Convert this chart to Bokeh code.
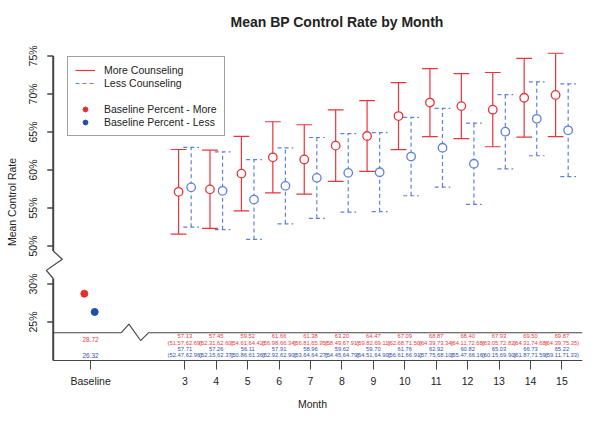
from bokeh.plotting import figure
from bokeh.models import Range1d, FixedTicker, Legend, LegendItem
from bokeh.core.properties import value
from bokeh.embed import file_html
from bokeh.resources import INLINE

# ---------------- data ----------------
months = [3, 4, 5, 6, 7, 8, 9, 10, 11, 12, 13, 14, 15]
more_mean = [57.13, 57.45, 59.52, 61.66, 61.38, 63.20, 64.47, 67.09, 68.87, 68.40, 67.93, 69.50, 69.87]
more_lo = [51.57, 52.31, 54.61, 56.98, 56.81, 58.49, 59.82, 62.68, 64.39, 64.11, 63.05, 64.31, 64.39]
more_hi = [62.69, 62.60, 64.42, 66.34, 65.95, 67.91, 69.11, 71.50, 73.34, 72.68, 72.82, 74.68, 75.35]
less_mean = [57.71, 57.26, 56.11, 57.91, 58.96, 59.62, 59.70, 61.76, 62.92, 60.82, 65.03, 66.73, 65.22]
less_lo = [52.47, 52.15, 50.86, 52.92, 53.64, 54.45, 54.51, 56.61, 57.75, 55.47, 60.15, 61.87, 59.11]
less_hi = [62.96, 62.37, 61.36, 62.90, 64.27, 64.79, 64.90, 66.91, 68.10, 66.16, 69.90, 71.59, 71.33]
baseline_more = 28.72
baseline_less = 26.32
baseline_label = "Baseline"
y_tick_pct = [25, 30, 50, 55, 60, 65, 70, 75]

# ---------------- layout constants ----------------
BREAK_SHIFT = 15          # axis break: 30% is drawn where 45 would be
def to_axis(v):
    return v + BREAK_SHIFT if v <= 35 else v

BASE_X = 0
OFF_MORE, OFF_LESS = -0.2, 0.2
BASE_OFF_MORE, BASE_OFF_LESS = -0.2, 0.13
CAP = 0.25
AXIS_X = -1.19
X_END = 15.656
Y_BOTTOM = 34.94
TABLE_TOP = 38.58
ROW_MORE_MEAN, ROW_MORE_CI, ROW_LESS_MEAN, ROW_LESS_CI = 38.11, 37.27, 36.51, 35.70
ROW_BASE_MORE, ROW_BASE_LESS = 37.69, 35.57
BREAK_TOP, BREAK_BOTTOM = 49.33, 45.72
TICK_LEN = 0.19

RED = "#e8343a"
BLUE = "#5f80da"
RED_DOT = "#e62e2e"
BLUE_DOT = "#1f4fa8"
RED_TXT = "#e8403f"
BLUE_TXT = "#3352b5"
AX = "#444444"
TXT = "#222222"
FONT = "Liberation Sans"

p = figure(width=584, height=412, output_backend="svg", toolbar_location=None,
           x_range=Range1d(-1.531, X_END), y_range=Range1d(Y_BOTTOM - 0.4, 77.03),
           min_border_left=42, min_border_right=2, min_border_top=40, min_border_bottom=44)
p.grid.visible = False
p.outline_line_color = None
p.background_fill_color = "white"
p.border_fill_color = "white"

p.title.text = "Mean BP Control Rate by Month"
p.title.text_font = FONT
p.title.text_font_size = "14px"
p.title.text_font_style = "bold"
p.title.text_color = TXT
p.title.align = "left"
p.title.offset = 188
p.title.standoff = 22

# x axis
xa = p.xaxis[0]
xa.ticker = FixedTicker(ticks=[BASE_X] + months)
xa.major_label_overrides = {BASE_X: baseline_label, **{m: str(m) for m in months}}
xa.axis_line_color = None
xa.major_tick_out = 6
xa.major_tick_in = 3
xa.major_tick_line_color = AX
xa.minor_tick_line_color = None
xa.major_label_text_font = FONT
xa.major_label_text_font_size = "10.5px"
xa.major_label_text_color = TXT
xa.major_label_standoff = 5
xa.axis_label = "Month"
xa.axis_label_text_font = FONT
xa.axis_label_text_font_size = "10.5px"
xa.axis_label_text_font_style = "normal"
xa.axis_label_text_color = TXT
xa.axis_label_standoff = 8

# y axis: labels and title (line and ticks drawn below, with the break)
ya = p.yaxis[0]
ya.ticker = FixedTicker(ticks=[to_axis(v) for v in y_tick_pct])
ya.major_label_overrides = {to_axis(v): f"{v}%" for v in y_tick_pct}
ya.major_label_orientation = "parallel"
ya.axis_line_color = None
ya.major_tick_line_color = None
ya.major_tick_out = 0
ya.major_tick_in = 0
ya.minor_tick_line_color = None
ya.major_label_text_font = FONT
ya.major_label_text_font_size = "10.5px"
ya.major_label_text_color = TXT
ya.major_label_standoff = 3
ya.axis_label = "Mean Control Rate"
ya.axis_label_text_font = FONT
ya.axis_label_text_font_size = "10.5px"
ya.axis_label_text_font_style = "normal"
ya.axis_label_text_color = TXT
ya.axis_label_standoff = 7

yt = [to_axis(v) for v in y_tick_pct]
# y axis line in two pieces around the break
p.segment(x0=[AXIS_X, AXIS_X], x1=[AXIS_X, AXIS_X], y0=[max(yt), BREAK_BOTTOM],
          y1=[BREAK_TOP, Y_BOTTOM], line_color=AX, line_width=2)
# tick marks
p.segment(x0=[AXIS_X] * len(yt), x1=[AXIS_X - TICK_LEN] * len(yt), y0=yt, y1=yt,
          line_color=AX, line_width=1.6)
# zigzag of the y axis break
p.line(x=[AXIS_X, AXIS_X + 0.29, AXIS_X - 0.22, AXIS_X],
       y=[BREAK_TOP, 48.26, 46.79, BREAK_BOTTOM], line_color=AX, line_width=1.2)

# bottom rule and table top rule (with break)
p.multi_line(
    xs=[[AXIS_X, X_END],
        [AXIS_X, 0.97, 1.22, 1.59, 1.84, X_END]],
    ys=[[Y_BOTTOM, Y_BOTTOM],
        [TABLE_TOP, TABLE_TOP, TABLE_TOP + 1.14, TABLE_TOP - 1.02, TABLE_TOP, TABLE_TOP]],
    line_color=AX, line_width=1.1)

# error bars
xm = [m + OFF_MORE for m in months]
xl = [m + OFF_LESS for m in months]
r_more = p.segment(x0=xm, x1=xm, y0=more_lo, y1=more_hi, line_color=RED, line_width=1.2)
p.segment(x0=[x - CAP for x in xm], x1=[x + CAP for x in xm], y0=more_hi, y1=more_hi,
          line_color=RED, line_width=1.2)
p.segment(x0=[x - CAP for x in xm], x1=[x + CAP for x in xm], y0=more_lo, y1=more_lo,
          line_color=RED, line_width=1.2)
r_less = p.segment(x0=xl, x1=xl, y0=less_lo, y1=less_hi, line_color=BLUE, line_width=1.2,
                   line_dash="4 3")
p.segment(x0=[x - CAP for x in xl], x1=[x + CAP for x in xl], y0=less_hi, y1=less_hi,
          line_color=BLUE, line_width=1.2, line_dash="4 3")
p.segment(x0=[x - CAP for x in xl], x1=[x + CAP for x in xl], y0=less_lo, y1=less_lo,
          line_color=BLUE, line_width=1.2, line_dash="4 3")
p.scatter(x=xm, y=more_mean, size=8.5, marker="circle", fill_color="white",
          line_color=RED, line_width=1.3)
p.scatter(x=xl, y=less_mean, size=8.5, marker="circle", fill_color="white",
          line_color=BLUE, line_width=1.3)

# baseline points
r_bm = p.scatter(x=[BASE_X + BASE_OFF_MORE], y=[to_axis(baseline_more)], size=7,
                 marker="circle", fill_color=RED_DOT, line_color=RED_DOT)
r_bl = p.scatter(x=[BASE_X + BASE_OFF_LESS], y=[to_axis(baseline_less)], size=7,
                 marker="circle", fill_color=BLUE_DOT, line_color=BLUE_DOT)
r_blank = p.line(x=[], y=[], line_alpha=0)

# table texts
n = len(months)
txt_kw = dict(text_font=value(FONT), text_align="center", text_baseline="middle")
p.text(x=months, y=[ROW_MORE_MEAN] * n, text=[f"{v:.2f}" for v in more_mean],
       text_color=RED_TXT, text_font_size="5.8px", **txt_kw)
p.text(x=months, y=[ROW_MORE_CI] * n, text=[f"({a:.2f},{b:.2f})" for a, b in zip(more_lo, more_hi)],
       text_color=RED_TXT, text_font_size="5.8px", **txt_kw)
p.text(x=months, y=[ROW_LESS_MEAN] * n, text=[f"{v:.2f}" for v in less_mean],
       text_color=BLUE_TXT, text_font_size="5.8px", **txt_kw)
p.text(x=months, y=[ROW_LESS_CI] * n, text=[f"({a:.2f},{b:.2f})" for a, b in zip(less_lo, less_hi)],
       text_color=BLUE_TXT, text_font_size="5.8px", **txt_kw)
p.text(x=[BASE_X], y=[ROW_BASE_MORE], text=[f"{baseline_more:.2f}"],
       text_color=RED_TXT, text_font_size="6.5px", **txt_kw)
p.text(x=[BASE_X], y=[ROW_BASE_LESS], text=[f"{baseline_less:.2f}"],
       text_color=BLUE_TXT, text_font_size="6.5px", **txt_kw)

legend = Legend(items=[
    LegendItem(label="More Counseling", renderers=[r_more]),
    LegendItem(label="Less Counseling", renderers=[r_less]),
    LegendItem(label=" ", renderers=[r_blank]),
    LegendItem(label="Baseline Percent - More", renderers=[r_bm]),
    LegendItem(label="Baseline Percent - Less", renderers=[r_bl]),
], location=(25, 227))
legend.label_text_font = FONT
legend.label_text_font_size = "10.5px"
legend.label_text_color = TXT
legend.glyph_width = 20
legend.glyph_height = 12
legend.label_height = 12
legend.spacing = 1
legend.padding = 7
legend.margin = 0
legend.label_standoff = 9
legend.border_line_color = "#444444"
legend.border_line_width = 1
legend.background_fill_color = "white"
p.add_layout(legend)

open("out.html", "w").write(file_html(p, INLINE))
